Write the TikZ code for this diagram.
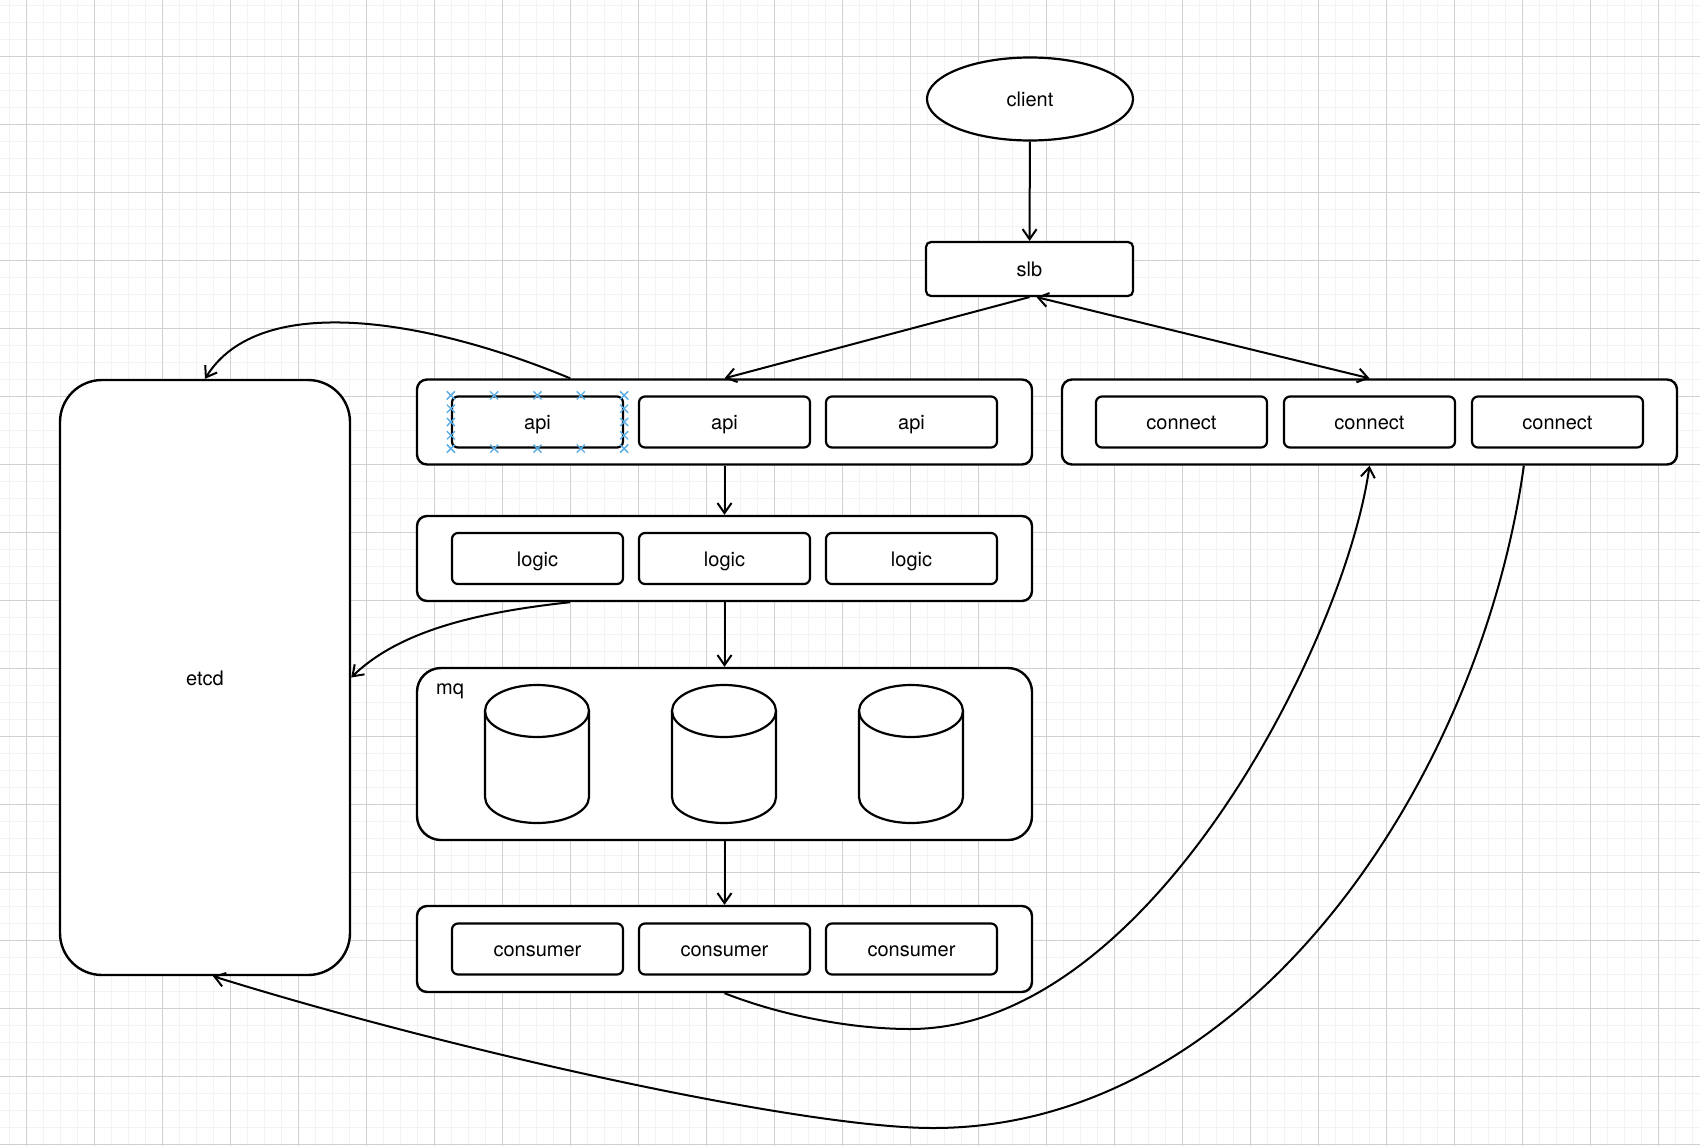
\documentclass[tikz,border=0pt]{standalone}
\usepackage{fontspec}
\setmainfont{TeX Gyre Heros}
\usetikzlibrary{shapes.geometric}
\usetikzlibrary{arrows.meta}
\usetikzlibrary{calc}

\definecolor{gridmajor}{RGB}{208,208,208}
\definecolor{gridminor}{RGB}{243,243,243}
\definecolor{selblue}{RGB}{90,174,230}

\begin{document}
\begin{tikzpicture}[x=1pt,y=-1pt,
	every node/.style={font=\fontsize{20}{24}\selectfont,text height=17pt,text depth=2pt},
	>={Straight Barb[length=10pt,width=14pt]},
	group/.style={draw,line width=2.4pt,rounded corners=10pt,fill=white,minimum width=615pt,minimum height=85pt,inner sep=0pt},
	unit/.style={draw,line width=2.2pt,rounded corners=6pt,fill=white,minimum width=171pt,minimum height=51pt,inner sep=0pt},
	link/.style={line width=2pt,->}]
\useasboundingbox (0,0) rectangle (1700,1146);
\fill[white] (0,0) rectangle (1700,1146);

% grid paper
\foreach \x in {9.3,26.3,...,1700} \draw[gridminor,line width=1.3pt] (\x,0) -- (\x,1146);
\foreach \y in {5.3,22.3,...,1146} \draw[gridminor,line width=1.3pt] (0,\y) -- (1700,\y);
\foreach \x in {26.3,94.3,...,1700} \draw[gridmajor,line width=1pt] (\x,0) -- (\x,1146);
\foreach \y in {56.3,124.3,...,1146} \draw[gridmajor,line width=1pt] (0,\y) -- (1700,\y);

\node[draw,ellipse,line width=2.2pt,fill=white,minimum width=206pt,minimum height=83pt] (client) at (1030,99) {client};
\node[unit,minimum width=207pt,minimum height=54pt,rounded corners=5pt] (slb) at (1029.5,269) {slb};
\node[group] (api) at (724.5,422) {};
\node[group] (conn) at (1369.5,422) {};
\node[group] (logic) at (724.5,558.5) {};
\node[group,minimum height=172pt,rounded corners=24pt] (mq) at (724.5,754) {};
\node[group,minimum height=86pt] (cons) at (724.5,949) {};
\node[group,minimum width=290pt,minimum height=595pt,rounded corners=42pt] (etcd) at (205,677.5) {etcd};
\node (mqlabel) at (450,687) {mq};

\foreach \g/\t/\s in {api/api/187,logic/logic/187,cons/consumer/187,conn/connect/188}
	\foreach \i/\k in {1/-1,2/0,3/1}
		\node[unit] (\g\i) at ([xshift={\k*\s}]\g.center) {\t};

% queues
\foreach \cx in {537,724,911}{
	\draw[line width=2.2pt,fill=white] (\cx-52,711) -- (\cx-52,797)
		arc[start angle=180,end angle=0,x radius=52,y radius=26] -- (\cx+52,711);
	\draw[line width=2.2pt] (\cx,711) ellipse[x radius=52,y radius=26];
}

% selection marks
\foreach \f in {0,0.25,...,1}
	\foreach \a/\b in {north west/north east,south west/south east,north west/south west,north east/south east}
		\draw[selblue,line width=1.3pt] ($(api1.\a)!\f!(api1.\b)$) +(-4,-4) -- +(4,4) +(-4,4) -- +(4,-4);

\draw[link] (client) -- (slb);
\draw[link] (slb.south) -- (api.north);
\draw[link,<->] ([xshift=7]slb.south) -- (conn.north);
\draw[link] (api) -- (logic);
\draw[link] (logic) -- (mq);
\draw[link] (mq) -- (cons);

\draw[link] ($(api.north west)!0.25!(api.north east)$) .. controls (430,320) and (260,290) .. (etcd.north);
\draw[link] ($(logic.south west)!0.25!(logic.south east)$) .. controls (480,612) and (400,630) .. (etcd.east);
\draw[link] (cons.south) .. controls (780,1015) and (850,1029) .. (910,1029)
	.. controls (1150,1029) and (1345,640) .. (conn.south);
\draw[link] ($(conn.south west)!0.75!(conn.south east)$) .. controls (1480,780) and (1250,1128) .. (933,1128)
	.. controls (800,1128) and (450,1050) .. ([xshift=8]etcd.south);
\end{tikzpicture}
\end{document}
